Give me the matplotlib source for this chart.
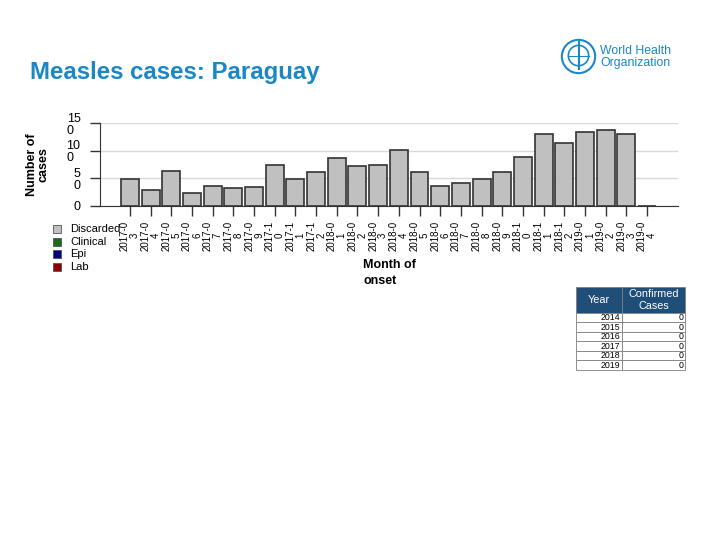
import matplotlib
matplotlib.use("Agg")
import matplotlib.pyplot as plt
from matplotlib.patches import Rectangle, Circle

plt.rcParams["font.family"] = ["Liberation Sans", "DejaVu Sans"]

months = ["2017-03", "2017-04", "2017-05", "2017-06", "2017-07", "2017-08", "2017-09",
          "2017-10", "2017-11", "2017-12", "2018-01", "2018-02", "2018-03", "2018-04",
          "2018-05", "2018-06", "2018-07", "2018-08", "2018-09", "2018-10", "2018-11",
          "2018-12", "2019-01", "2019-02", "2019-03", "2019-04"]
discarded = [48, 29, 64, 23, 36, 32, 34, 74, 48, 61, 86, 73, 75, 102,
             61, 36, 41, 48, 62, 89, 131, 114, 133, 137, 131, 0]

legend_names = ["Discarded", "Clinical", "Epi", "Lab"]
legend_colors = ["#c0c0c0", "#1a6b1a", "#000080", "#8b0000"]

years = ["2014", "2015", "2016", "2017", "2018", "2019"]
confirmed = [0, 0, 0, 0, 0, 0]

blue = "#1b87c5"

fig = plt.figure(figsize=(7.2, 5.4), dpi=100)
fig.patch.set_facecolor("white")

# title
fig.text(30 / 720, 1 - 73 / 540, "Measles cases: Paraguay", color=blue,
         fontsize=17.3, fontweight="bold", va="center", ha="left")

# main bar chart
ax = fig.add_axes([100 / 720, 1 - 206 / 540, 578 / 720, 83 / 540])
x = list(range(len(months)))
ax.bar(x, discarded, width=0.87, color=legend_colors[0], edgecolor="#333333", linewidth=1.2, zorder=3)
ax.set_xlim(-1.45, len(months) - 1 + 1.5)
ax.set_ylim(0, 150)
ax.set_yticks([0, 50, 100, 150])
ax.set_yticklabels(["0", "5\n0", "10\n0", "15\n0"], fontsize=9, linespacing=1.0,
                   multialignment="left")
ax.set_xticks(x)
ax.set_xticklabels([m[:6] + "\n" + m[6:] for m in months], rotation=90, fontsize=7,
                   linespacing=1.0, va="top", ha="center")
ax.tick_params(axis="both", length=7, width=1, color="#333333")
ax.tick_params(axis="y", pad=7)
ax.grid(axis="y", color="#d9d9d9", linewidth=1, zorder=0)
for s in ["top", "right"]:
    ax.spines[s].set_visible(False)
ax.spines["left"].set_color("#333333")
ax.spines["bottom"].set_color("#333333")
ax.set_ylabel("Number of\ncases", fontsize=9, fontweight="bold", linespacing=1.0, labelpad=12)

fig.text(363 / 720, 1 - 273 / 540, "Month of\nonset", fontsize=9, fontweight="bold",
         va="center", ha="left", linespacing=1.5)

# legend
for i, (name, col) in enumerate(zip(legend_names, legend_colors)):
    yy = 1 - (229 + i * 12.7) / 540
    fig.patches.append(Rectangle((53 / 720, yy - 4 / 540), 8 / 720, 8 / 540,
                                 transform=fig.transFigure, facecolor=col,
                                 edgecolor="#555555", linewidth=0.6))
    fig.text(70 / 720, yy, name, fontsize=8, va="center", ha="left")

# table
tab_ax = fig.add_axes([576 / 720, 1 - 370 / 540, 109 / 720, 83 / 540])
tab_ax.axis("off")
cells = [[y, str(v)] for y, v in zip(years, confirmed)]
tbl = tab_ax.table(cellText=cells, colLabels=["Year", "Confirmed\nCases"],
                   colWidths=[0.42, 0.58], bbox=[0, 0, 1, 1], cellLoc="right")
tbl.auto_set_font_size(False)
for (r, c), cell in tbl.get_celld().items():
    cell.set_edgecolor("#7f7f7f")
    cell.set_linewidth(0.6)
    if r == 0:
        cell.set_facecolor("#1f4e79")
        cell.get_text().set_color("white")
        cell.get_text().set_fontsize(7.8)
        cell.get_text().set_linespacing(1.3)
        cell.get_text().set_ha("center")
        cell._loc = "center"
        cell.set_height(0.31)
    else:
        cell.get_text().set_fontsize(6.3)
        cell.set_height(0.69 / len(years))
        cell.PAD = 0.03

# WHO logo
logo = fig.add_axes([560 / 720, 1 - 75 / 540, 37 / 720, 37 / 540])
logo.set_xlim(-1, 1)
logo.set_ylim(-1, 1)
logo.set_aspect("equal")
logo.axis("off")
logo.add_patch(Circle((0, 0), 0.9, fill=False, edgecolor=blue, linewidth=1.5))
logo.add_patch(Circle((0, 0.05), 0.55, fill=False, edgecolor=blue, linewidth=1.2))
logo.plot([0, 0], [-0.7, 0.8], color=blue, linewidth=1.5)
logo.plot([-0.55, 0.55], [0.05, 0.05], color=blue, linewidth=0.8)
fig.text(600 / 720, 1 - 57 / 540, "World Health\nOrganization", color=blue,
         fontsize=8.8, va="center", ha="left", linespacing=1.0)

fig.savefig("out.png", dpi=100)
